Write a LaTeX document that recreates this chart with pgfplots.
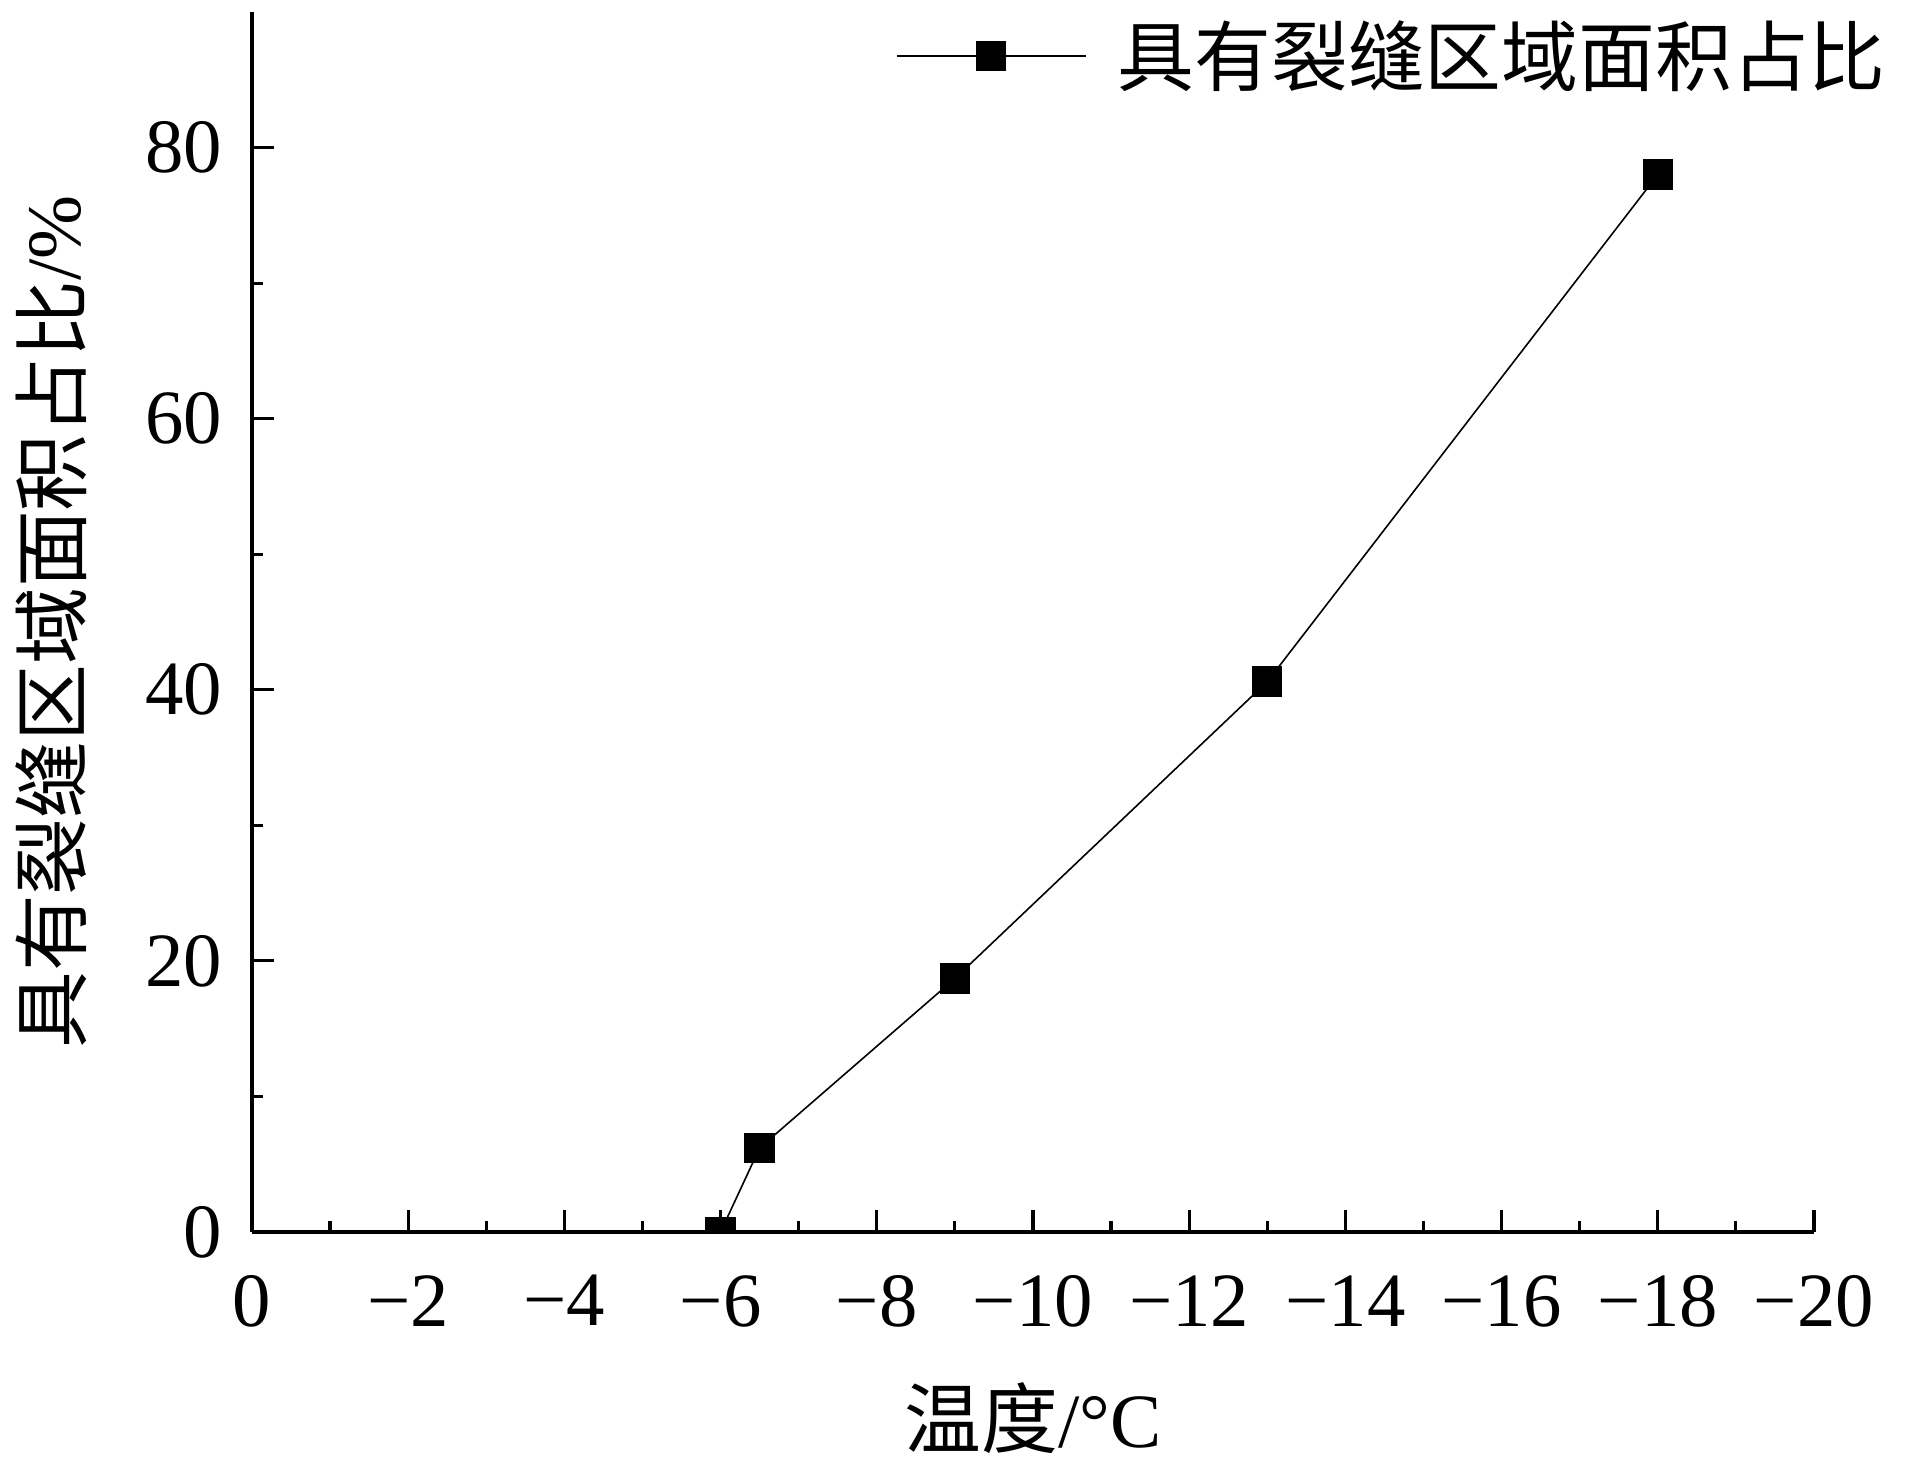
\documentclass[border=0pt]{standalone}
\usepackage{fontspec}
\setmainfont{Liberation Serif}
\newfontfamily\cjk{Noto Sans CJK SC}
\usepackage{pgfplots}
\pgfplotsset{compat=1.18}
\newcommand{\fs}{\fontsize{19.2pt}{23pt}\selectfont}
\begin{document}
\begin{tikzpicture}
\useasboundingbox (-63pt,-59.25pt) rectangle (414.25pt,308pt);
\begin{axis}[
 scale only axis, width=390.5pt, height=305pt,
 at={(0,0)}, anchor=south west,
 xmin=-20, xmax=0, x dir=reverse, ymin=0, ymax=90,
 axis x line*=bottom, axis y line*=left,
 axis line style={line width=1pt},
 xtick={0,-2,...,-20},
 xticklabels={0,−2,−4,−6,−8,−10,−12,−14,−16,−18,−20},
 minor x tick num=1,
 ytick={0,20,40,60,80}, minor y tick num=1,
 tick align=inside,
 major tick length=5.5pt, minor tick length=2.75pt,
 tick style={line width=0.8pt, black},
 /pgf/number format/assume math mode=true,
 tick label style={font=\fs},
 xticklabel style={yshift=-7.3pt},
 yticklabel style={xshift=-4pt},
 xlabel={{\cjk 温度}/°C}, ylabel={{\cjk 具有裂缝区域面积占比}/\%},
 label style={font=\fs},
 xlabel style={at={(axis description cs:0.5,-0.1525)}, anchor=center},
 ylabel style={at={(axis description cs:-0.1287,0.5)}, anchor=center},
 legend style={at={(axis description cs:1.0515,0.964)}, anchor=east, draw=none, fill=none, font=\fs, inner sep=0pt},
 legend image code/.code={\draw[mark repeat=2,mark phase=2] plot coordinates {(0pt,0pt)(23.6pt,0pt)(47.2pt,0pt)};\path (53pt,0pt);},
 clip marker paths=true,
]
\addplot[black, line width=0.4pt, mark=square*, mark size=3.6pt] coordinates {(-6,0)(-6.5,6.2)(-9,18.7)(-13,40.6)(-18,78.0)};
\legend{{\cjk 具有裂缝区域面积占比}}
\end{axis}
\end{tikzpicture}
\end{document}
